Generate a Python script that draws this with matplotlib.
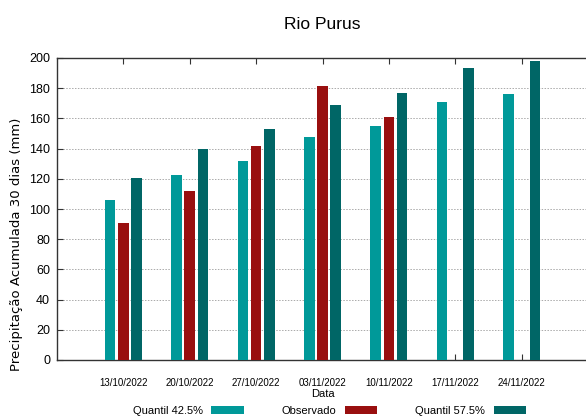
import numpy as np
import matplotlib.pyplot as plt

datas = ["13/10/2022", "20/10/2022", "27/10/2022", "03/11/2022",
         "10/11/2022", "17/11/2022", "24/11/2022"]
q425 = [106, 122.5, 132, 147.7, 155, 170.7, 176.2]
obs = [90.5, 112, 141.5, 181.2, 161.1, np.nan, np.nan]
q575 = [120.5, 139.5, 152.8, 168.9, 176.6, 193.4, 198]

plt.rcParams['font.family'] = ['Liberation Sans', 'DejaVu Sans']

fig = plt.figure(figsize=(5.86, 4.18), dpi=100)
ax = fig.add_axes([57/586, 58/418, 531/586, 302/418])

x = np.arange(len(datas))
w = 0.16
b1 = ax.bar(x - 0.2, q425, w, color="#009999", label="Quantil 42.5%", zorder=3)
b2 = ax.bar(x, obs, w, color="#990f0f", label="Observado", zorder=3)
b3 = ax.bar(x + 0.2, q575, w, color="#006666", label="Quantil 57.5%", zorder=3)

ax.set_xlim(-1, 7)
ax.set_ylim(0, 200)
ax.set_yticks(np.arange(0, 201, 20))
ax.set_xticks(x)
ax.set_xticklabels(datas, fontsize=7)
ax.tick_params(axis='x', direction='in', top=True, length=4, pad=13, color='#333333')
ax.tick_params(axis='y', direction='in', length=4, labelsize=9, pad=5, color='#333333')
ax.yaxis.grid(True, linestyle=(0, (1.5, 1.5)), color='#aaaaaa', lw=0.7, zorder=0)
for s in ax.spines.values():
    s.set_color('#333333')
    s.set_linewidth(1.0)

ax.set_xlabel("Data", fontsize=8, labelpad=1)
ax.set_ylabel("Precipitação Acumulada 30 dias (mm)", fontsize=9.5,
              family=['DejaVu Sans'])
ax.yaxis.set_label_coords(-0.064, 0.384)
ax.set_title("Rio Purus", fontsize=12.5, pad=21)

fig.legend(handles=[b1, b2, b3], loc='center', bbox_to_anchor=(0.562, 0.017),
           ncol=3, frameon=False, markerfirst=False, fontsize=8,
           handlelength=2.9, handleheight=0.7, handletextpad=0.8,
           columnspacing=3.4, borderpad=0)

fig.savefig("out.png", dpi=100)
